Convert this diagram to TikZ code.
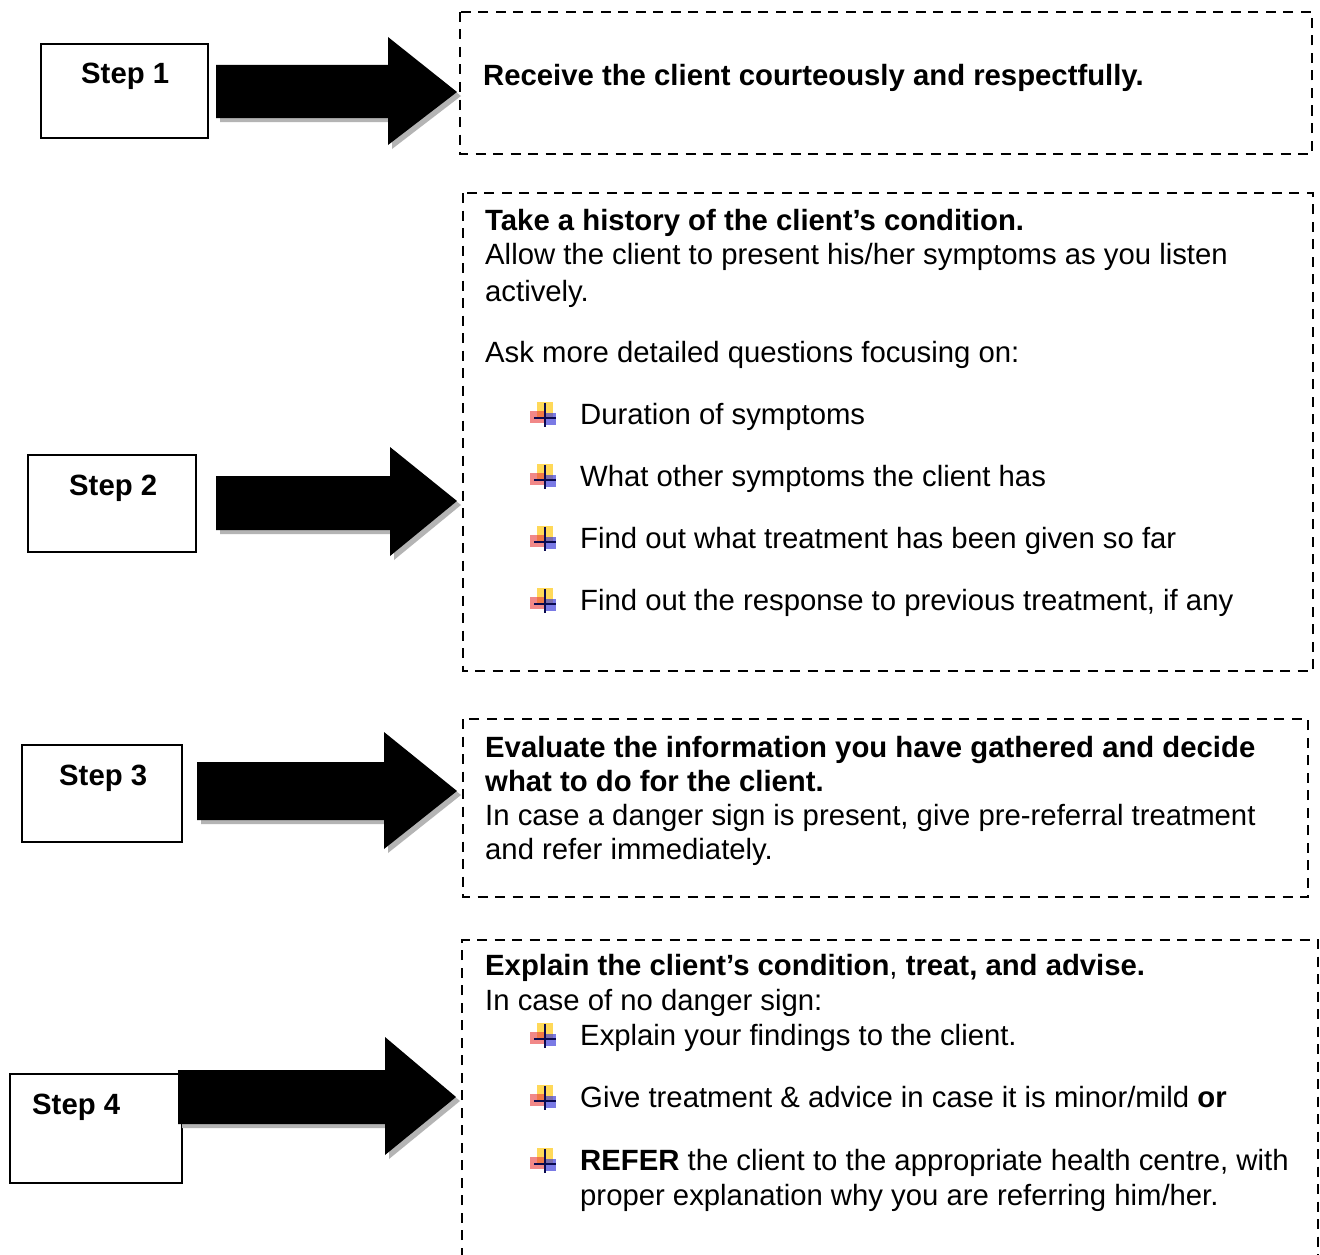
\documentclass[tikz,border=0pt]{standalone}
\usepackage{fontspec}
\setmainfont{Liberation Sans}
\definecolor{shade}{HTML}{B4B4B4}
\definecolor{bulY}{HTML}{FFD030}
\definecolor{bulR}{HTML}{E83A3A}
\definecolor{bulB}{HTML}{3434D8}
\definecolor{bulK}{HTML}{0A0A50}
\newcommand\blockarr[7]{% x0, ytop, ybot, xh, htop, hbot, tip (x,y)
  \fill[arrowshadow,shift={(4,4)}] (#1,#2) -- (#4,#2) -- (#4,#5) -- #7 -- (#4,#6) -- (#4,#3) -- (#1,#3) -- cycle;
  \fill[blockarrow] (#1,#2) -- (#4,#2) -- (#4,#5) -- #7 -- (#4,#6) -- (#4,#3) -- (#1,#3) -- cycle;
}
\begin{document}
\begin{tikzpicture}[x=1pt,y=-1pt,
  stepbox/.style={draw=black,line width=1.8pt,inner sep=0pt},
  dashbox/.style={draw=black,line width=2.6pt,dash pattern=on 10pt off 7.5pt,inner sep=0pt},
  blockarrow/.style={fill=black},
  arrowshadow/.style={fill=shade},
  txt/.style={inner sep=0pt,anchor=base west,font=\fontsize{29.3}{34}\selectfont},
  steptxt/.style={txt,font=\fontsize{29.3}{34}\selectfont\bfseries},
  bul/.pic={
    \fill[bulY,opacity=0.8] (-8,-16) rectangle (8,-1);
    \fill[bulR,opacity=0.6] (-15,-7) rectangle (0,5);
    \fill[bulB,opacity=0.65] (0,-5) rectangle (11,7);
    \draw[bulK,line width=2.2pt] (0,-15) -- (0,9);
    \draw[bulK,line width=2.2pt] (-11,0) -- (11,0);
  }]
\useasboundingbox (0,0) rectangle (1320,1255);
\fill[white] (0,0) rectangle (1320,1255);

% step boxes
\node[stepbox,minimum width=167pt,minimum height=94pt] (b1) at (124.5,91) {};
\node[steptxt] (s1) at (81,84) {Step 1};
\node[stepbox,minimum width=168pt,minimum height=97pt] (b2) at (112,503.5) {};
\node[steptxt] (s2) at (69,495) {Step 2};
\node[stepbox,minimum width=160pt,minimum height=97pt] (b3) at (102,793.5) {};
\node[steptxt] (s3) at (59,785) {Step 3};
\node[stepbox,minimum width=172pt,minimum height=109pt] (b4) at (96,1128.5) {};
\node[steptxt] (s4) at (32,1114) {Step 4};

% block arrows
\blockarr{216}{65}{118}{388}{37}{145}{(457,92)}
\blockarr{216}{476}{530}{390}{447}{556}{(457,501)}
\blockarr{197}{762}{820}{384}{732}{849}{(457,791)}
\blockarr{178}{1070}{1124}{385}{1037}{1155}{(456,1097)}

% dashed boxes
\draw[dashbox] (460,12) rectangle (1312,154);
\draw[dashbox] (463,193) rectangle (1313,671);
\draw[dashbox] (463,719) rectangle (1308,897);
\draw[dashbox] (462,1275) -- (462,940) -- (1318,940) -- (1318,1275);

% box 1
\node[txt] (t1) at (483,85) {\bfseries Receive the client courteously and respectfully.};

% box 2
\node[txt] (t2a) at (485,230) {\bfseries Take a history of the client’s condition.};
\node[txt] (t2b) at (485,264) {Allow the client to present his/her symptoms as you listen};
\node[txt] (t2c) at (485,301) {actively.};
\node[txt] (t2d) at (485,362) {Ask more detailed questions focusing on:};
\node[txt] (t2e) at (580,424) {Duration of symptoms};
\node[txt] (t2f) at (580,486) {What other symptoms the client has};
\node[txt] (t2g) at (580,548) {Find out what treatment has been given so far};
\node[txt] (t2h) at (580,610) {Find out the response to previous treatment, if any};
\foreach \yy in {424,486,548,610} \pic at (545,\yy-6) {bul};

% box 3
\node[txt] (t3a) at (485,757) {\bfseries Evaluate the information you have gathered and decide};
\node[txt] (t3b) at (485,791) {\bfseries what to do for the client.};
\node[txt] (t3c) at (485,825) {In case a danger sign is present, give pre-referral treatment};
\node[txt] (t3d) at (485,859) {and refer immediately.};

% box 4
\node[txt] (t4a) at (485,975) {\bfseries Explain the client’s condition\mdseries, \bfseries treat, and advise.};
\node[txt] (t4b) at (485,1010) {In case of no danger sign:};
\node[txt] (t4c) at (580,1045) {Explain your findings to the client.};
\node[txt] (t4d) at (580,1107) {Give treatment \& advice in case it is minor/mild \textbf{or}};
\node[txt] (t4e) at (580,1170) {\textbf{REFER} the client to the appropriate health centre, with};
\node[txt] (t4f) at (580,1205) {proper explanation why you are referring him/her.};
\foreach \yy in {1045,1107,1170} \pic at (545,\yy-6) {bul};
\end{tikzpicture}
\end{document}
